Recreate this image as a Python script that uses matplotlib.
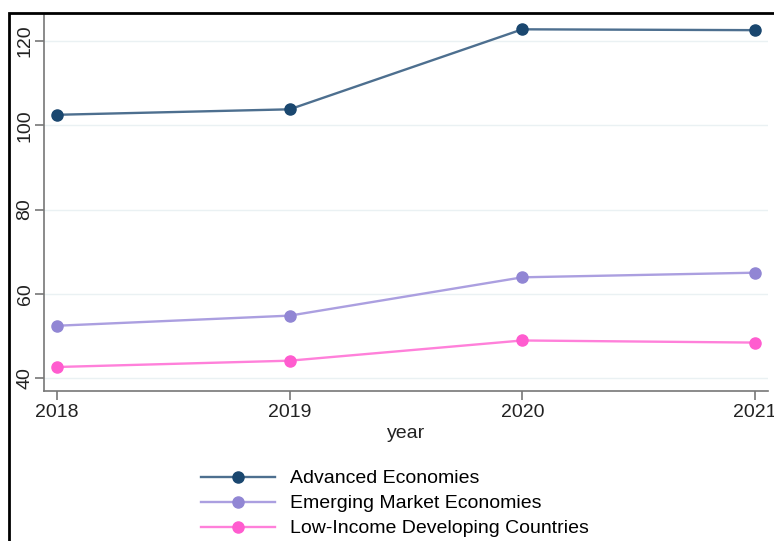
import matplotlib
matplotlib.use('Agg')
import matplotlib.pyplot as plt
from matplotlib.lines import Line2D
from matplotlib.patches import Rectangle

plt.rcParams['font.family'] = ['Liberation Sans', 'DejaVu Sans']

years = [2018, 2019, 2020, 2021]
advanced = [102.5, 103.8, 122.8, 122.6]
emerging = [52.4, 54.8, 63.9, 65.0]
low_income = [42.6, 44.1, 48.9, 48.4]

series_names = ['Advanced Economies', 'Emerging Market Economies',
                'Low-Income Developing Countries']
series_values = [advanced, emerging, low_income]
marker_colors = ['#1a476f', '#9186d4', '#ff5ccf']
line_colors = ['#4d6f8f', '#ab9fe0', '#ff80da']

fig = plt.figure(figsize=(7.74, 5.41), dpi=100)
ax = fig.add_axes([44 / 774, 1 - 391 / 541, (768 - 44) / 774, (391 - 15) / 541])

for name, vals, mc, lc in zip(series_names, series_values, marker_colors, line_colors):
    ax.plot(years, vals, color=lc, lw=1.7, zorder=2)
    ax.plot(years, vals, 'o', color=mc, ms=8, zorder=3, label=name)

ax.set_xlim(2017.944, 2021.056)
ax.set_ylim(36.9, 126.2)
ax.set_xticks(years)
ax.set_yticks([40, 60, 80, 100, 120])
ax.grid(axis='y', color='#eaf1f3', lw=1)
ax.set_axisbelow(True)

for side in ['top', 'right']:
    ax.spines[side].set_visible(False)
for side in ['left', 'bottom']:
    ax.spines[side].set_color('#777777')
    ax.spines[side].set_linewidth(1.2)

ax.tick_params(axis='both', colors='#777777', labelcolor='#222222', labelsize=14,
               length=6.5, width=1.2)
ax.tick_params(axis='y', pad=1)
ax.tick_params(axis='x', pad=3)
for lab in ax.get_yticklabels():
    lab.set_rotation(90)
    lab.set_va('center')
ax.set_xlabel('year', fontsize=14, color='#222222', labelpad=3)

handles = [Line2D([0], [0], color=lc, lw=1.7, marker='o', ms=8,
                  markerfacecolor=mc, markeredgecolor=mc)
           for mc, lc in zip(marker_colors, line_colors)]
fig.legend(handles, series_names, loc='upper left',
           bbox_to_anchor=(193 / 774, 1 - 462 / 541), frameon=False,
           fontsize=14, handlelength=3.8, labelspacing=0.38, handletextpad=0.8,
           borderaxespad=0)

# outer frame of the original figure
fig.patches.append(Rectangle((9 / 774, -0.1), 1.2, 1 - 13 / 541 + 0.1,
                             transform=fig.transFigure, fill=False,
                             edgecolor='black', lw=2))

fig.savefig('out.png', dpi=100)
